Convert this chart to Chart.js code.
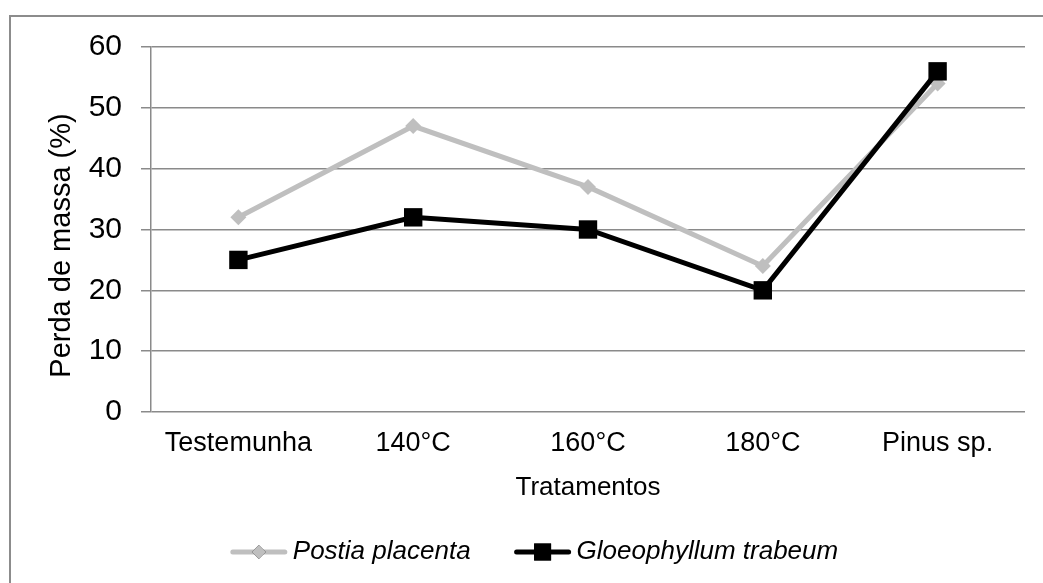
<!DOCTYPE html>
<html>
<head>
<meta charset="utf-8">
<script src="https://cdn.jsdelivr.net/npm/chart.js@4"></script>
<style>
  html, body { margin: 0; padding: 0; background: #fff; }
  #wrap { position: relative; width: 1043px; height: 583px; overflow: hidden; }
  #frame {
    position: absolute; left: 9px; top: 15px; width: 1100px; height: 600px;
    border-left: 2px solid #8c8c8c; border-top: 2px solid #8c8c8c;
    box-sizing: border-box; pointer-events: none;
  }
  canvas { position: absolute; left: 0; top: 0; }
</style>
</head>
<body>
<div id="wrap">
  <div id="frame"></div>
  <canvas id="chart" width="1043" height="583"></canvas>
</div>
<script>
// Perda de massa por tratamento térmico, dois fungos
const tratamentos = ['Testemunha', '140°C', '160°C', '180°C', 'Pinus sp.'];
const postiaPlacenta = [32, 47, 37, 24, 54];
const gloeophyllumTrabeum = [25, 32, 30, 20, 56];
const yTicks = [0, 10, 20, 30, 40, 50, 60];

const FONT = '"Liberation Sans", Arial, sans-serif';
const GRID = '#8a8a8a';

// y-axis title, drawn by hand so it can sit a bit below the plot centre
const yTitlePlugin = {
  id: 'yTitle',
  afterDraw(chart) {
    const { ctx, chartArea } = chart;
    ctx.save();
    ctx.translate(62, (chartArea.top + chartArea.bottom) / 2 + 16);
    ctx.rotate(-Math.PI / 2);
    ctx.font = '29px ' + FONT;
    ctx.fillStyle = '#000';
    ctx.textAlign = 'center';
    ctx.textBaseline = 'middle';
    ctx.fillText('Perda de massa (%)', 0, 0);
    ctx.restore();
  }
};

// legend: line sample with the series marker in the middle
const legendPlugin = {
  id: 'lineMarkerLegend',
  afterDraw(chart) {
    const ctx = chart.ctx;
    const SAMPLE = 56, GAP = 6, ITEM_GAP = 44;
    const y = chart.scales.x.bottom + 45;
    ctx.save();
    ctx.font = 'italic 26px ' + FONT;
    const items = chart.data.datasets.map(ds => ({
      ds, w: SAMPLE + GAP + ctx.measureText(ds.label).width
    }));
    const total = items.reduce((s, it) => s + it.w, 0) + ITEM_GAP * (items.length - 1);
    let x = chart.width / 2 + 13 - total / 2;
    items.forEach(({ ds, w }) => {
      ctx.strokeStyle = ds.borderColor;
      ctx.lineWidth = ds.borderWidth;
      ctx.lineCap = 'round';
      ctx.beginPath();
      ctx.moveTo(x + 2, y);
      ctx.lineTo(x + SAMPLE - 2, y);
      ctx.stroke();
      Chart.helpers.drawPoint(ctx, {
        pointStyle: ds.pointStyle,
        radius: ds.legendRadius,
        rotation: 0,
        borderWidth: 0
      }, x + SAMPLE / 2, y);
      ctx.fillStyle = ds.pointBackgroundColor;
      ctx.fill();
      ctx.fillStyle = '#000';
      ctx.textAlign = 'left';
      ctx.textBaseline = 'middle';
      ctx.fillText(ds.label, x + SAMPLE + GAP, y);
      x += w + ITEM_GAP;
    });
    ctx.restore();
  }
};

new Chart(document.getElementById('chart'), {
  type: 'line',
  data: {
    labels: tratamentos,
    datasets: [
      {
        label: 'Postia placenta',
        data: postiaPlacenta,
        borderColor: '#bfbfbf',
        backgroundColor: '#bfbfbf',
        pointBackgroundColor: '#bfbfbf',
        pointBorderColor: '#bfbfbf',
        borderWidth: 5,
        pointStyle: 'rectRot',
        pointRadius: 8,
        pointBorderWidth: 0,
        legendRadius: 7,
        tension: 0,
        order: 2
      },
      {
        label: 'Gloeophyllum trabeum',
        data: gloeophyllumTrabeum,
        borderColor: '#000',
        backgroundColor: '#000',
        pointBackgroundColor: '#000',
        pointBorderColor: '#000',
        borderWidth: 5,
        pointStyle: 'rect',
        pointRadius: 13,
        pointBorderWidth: 0,
        legendRadius: 12,
        tension: 0,
        order: 1
      }
    ]
  },
  options: {
    responsive: false,
    animation: false,
    layout: { padding: { left: 0, right: 18, top: 47, bottom: 76 } },
    plugins: {
      legend: { display: false },
      tooltip: { enabled: false }
    },
    scales: {
      x: {
        offset: true,
        grid: { display: false, drawTicks: false },
        border: { display: false },
        ticks: { color: '#000', font: { family: FONT, size: 27 }, padding: 15, maxRotation: 0 },
        title: {
          display: true,
          text: 'Tratamentos',
          color: '#000',
          font: { family: FONT, size: 26 },
          padding: { top: 0, bottom: 4 }
        },
        afterFit: (s) => { s.height = 95; }
      },
      y: {
        min: yTicks[0],
        max: yTicks[yTicks.length - 1],
        afterBuildTicks: (s) => { s.ticks = yTicks.map(v => ({ value: v })); },
        grid: { color: GRID, lineWidth: 1.5, tickLength: 10, drawTicks: true },
        border: { display: true, color: GRID, width: 1.5 },
        ticks: { color: '#000', font: { family: FONT, size: 30 }, padding: 19 },
        afterFit: (s) => { s.width = 151; }
      }
    }
  },
  plugins: [yTitlePlugin, legendPlugin]
});
</script>
</body>
</html>
